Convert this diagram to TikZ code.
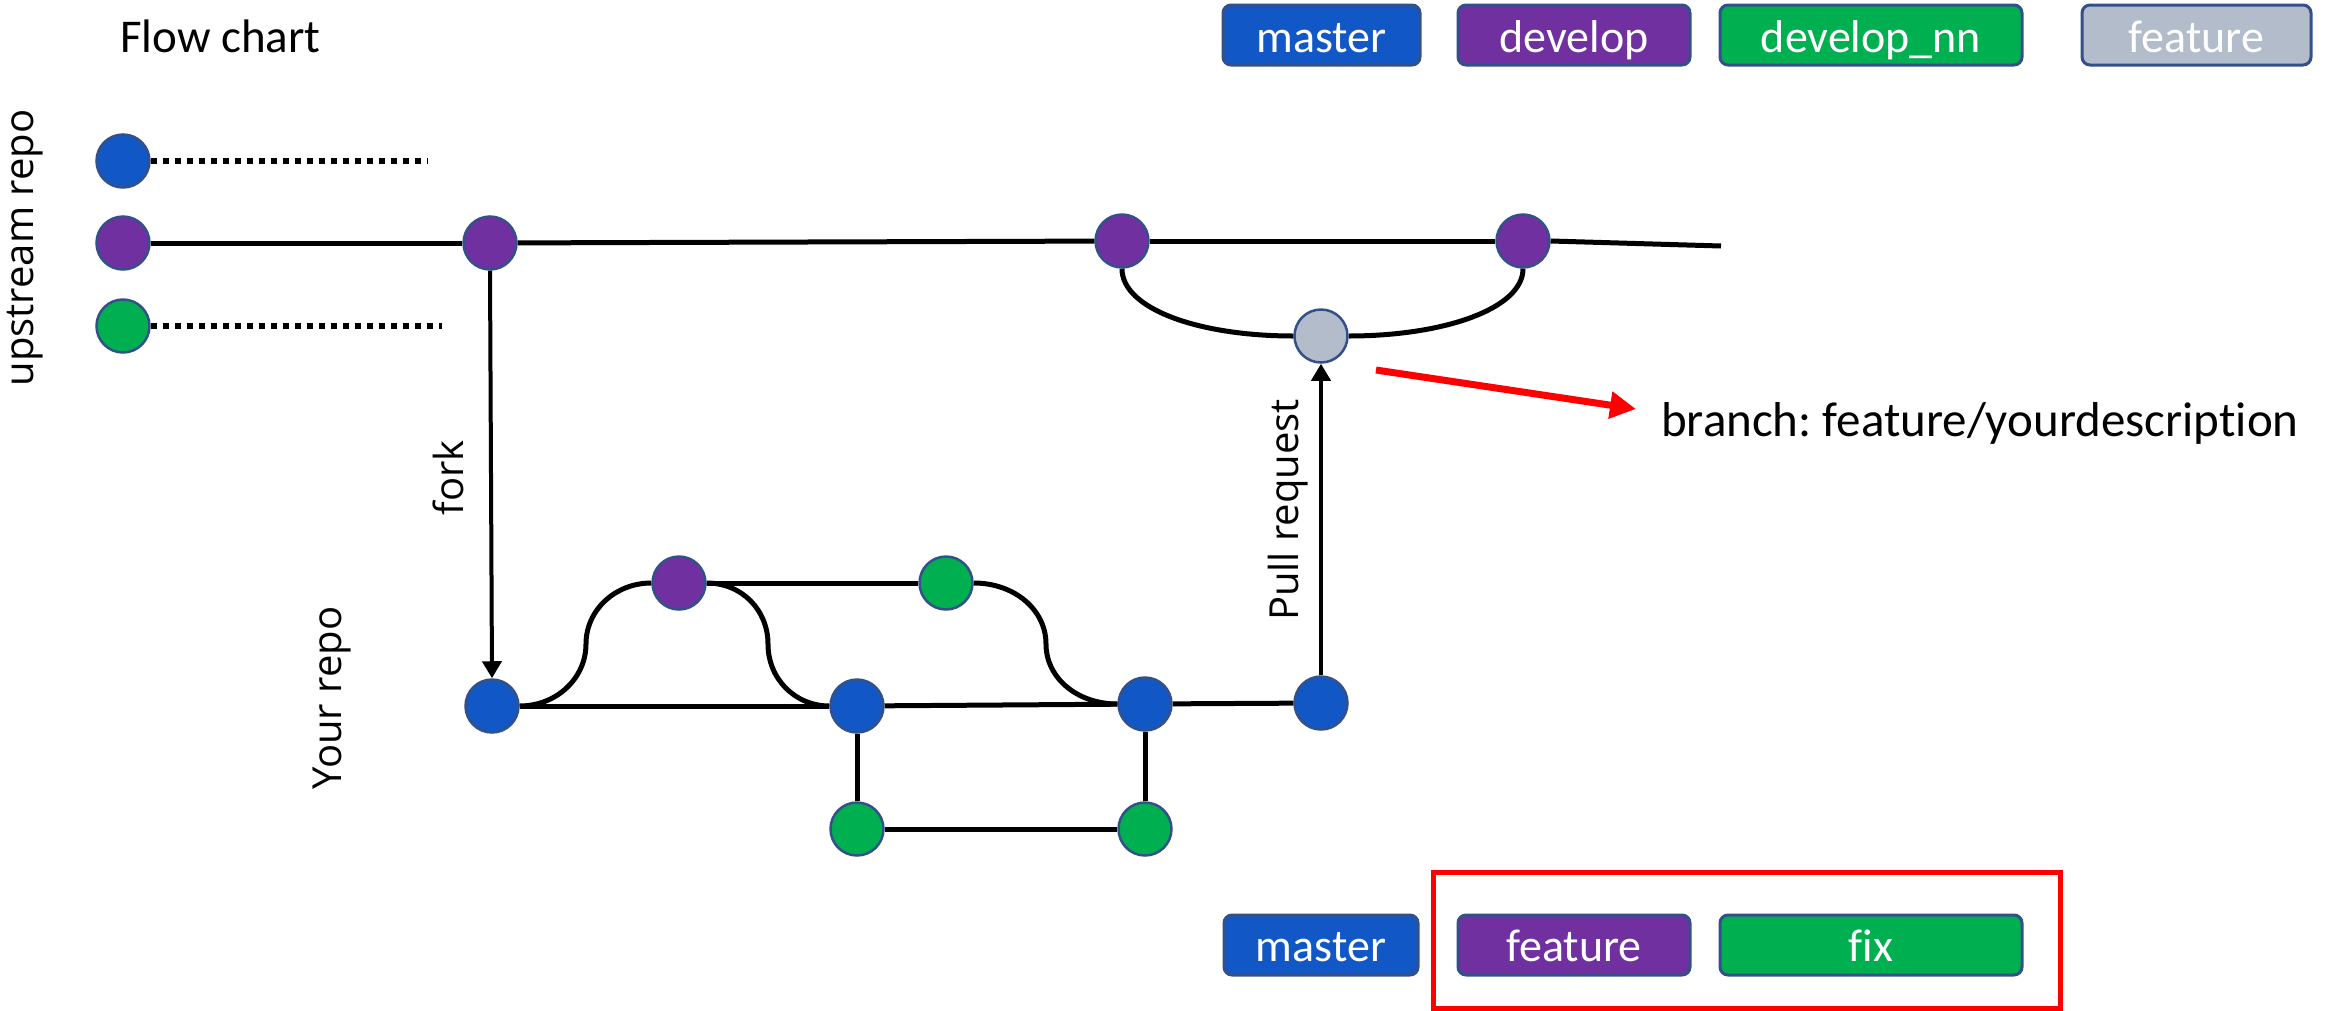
\documentclass[tikz,border=0pt]{standalone}
\usepackage{fontspec}
\setmainfont[Ligatures=NoCommon]{Carlito}
\newfontfamily\labelfont{Open Sans}
\usetikzlibrary{arrows.meta}
\frenchspacing

\definecolor{cmaster}{HTML}{1157C6}
\definecolor{cdevelop}{HTML}{7030A0}
\definecolor{cfix}{HTML}{00B050}
\definecolor{cfeature}{HTML}{B2BCCB}
\definecolor{cedge}{HTML}{34508A}
\definecolor{cred}{HTML}{FF0000}

\tikzset{
  commit/.style={circle, minimum size=53pt, inner sep=0pt, draw=cedge, line width=2.5pt},
  cmas/.style={commit, fill=cmaster},
  cdev/.style={commit, fill=cdevelop},
  cnn/.style={commit, fill=cfix},
  cfeat/.style={commit, fill=cfeature},
  branchline/.style={line width=5pt, black},
  dotline/.style={line width=6pt, black, dash pattern=on 6pt off 6pt},
  arrowline/.style={line width=4pt, black, -{Triangle[length=17pt,width=19pt]}},
  tag/.style={draw=cedge, line width=3pt, rounded corners=8pt, minimum height=60pt,
    inner sep=0pt, text=white, font=\fontsize{46}{50}\selectfont,
    text height=40pt, text depth=6pt},
  vlabel/.style={rotate=90, inner sep=0pt, font=\labelfont\fontsize{40}{44}\selectfont},
}

\begin{document}
\begin{tikzpicture}[x=1pt, y=-1pt]
\useasboundingbox (0,0) rectangle (2343,1010);

% title and legend
\node[anchor=base west, inner sep=0pt, font=\fontsize{47}{52}\selectfont] (title) at (120,52) {Flow chart};
\node[tag, fill=cmaster, minimum width=197pt] (lgmaster) at (1321.5,35) {master};
\node[tag, fill=cdevelop, minimum width=232pt] (lgdevelop) at (1574,35) {develop};
\node[tag, fill=cfix, minimum width=302pt] (lgnn) at (1871,35) {develop\_nn};
\node[tag, fill=cfeature, minimum width=229pt] (lgfeature) at (2196.5,35) {feature};

% side labels
\node[vlabel] (lupstream) at (25,248) {upstream repo};
\node[vlabel] (lfork) at (448,478) {fork};
\node[vlabel] (lyour) at (332,698) {Your repo};
\node[vlabel] (lpull) at (1288,510) {Pull request};

% upstream repository commits
\node[cmas] (um) at (123,161) {};
\node[cdev] (ud) at (123,243) {};
\node[cnn]  (un) at (123,326) {};
\node[cdev] (uf) at (490,243) {};
\node[cdev] (u2) at (1122,241) {};
\node[cdev] (u3) at (1523,241) {};
\node[cfeat] (ug) at (1321,336) {};
\coordinate (dm) at (427,161);
\coordinate (dn) at (442,326);
\coordinate (uend) at (1721,246);

\draw[dotline] (um.east) -- (dm);
\draw[dotline] (un.east) -- (dn);
\draw[branchline] (ud) -- (uf);
\draw[branchline] (uf) -- (u2);
\draw[branchline] (u2) -- (u3);
\draw[branchline] (u3.east) -- (uend);
\draw[branchline] (u2.south) .. controls +(0,40) and +(-95,0) .. (ug.west);
\draw[branchline] (ug.east) .. controls +(95,0) and +(0,40) .. (u3.south);

% own repository commits
\node[cmas] (r1) at (492,706) {};
\node[cdev] (rp) at (679,583) {};
\node[cnn]  (rg) at (946,583) {};
\node[cmas] (r2) at (857,706) {};
\node[cmas] (r3) at (1145,704) {};
\node[cmas] (r4) at (1321,703) {};
\node[cnn]  (rg2) at (857,829) {};
\node[cnn]  (rg3) at (1145,829) {};
\coordinate (m1) at (586,644);
\coordinate (m2) at (768,644);
\coordinate (m3) at (1046,644);

\draw[branchline] (r1) -- (r2);
\draw[branchline] (r2) -- (r3);
\draw[branchline] (r3) -- (r4);
\draw[branchline] (rp) -- (rg);
\draw[branchline] (r2) -- (rg2);
\draw[branchline] (rg2) -- (rg3);
\draw[branchline] (rg3) -- (r3);
\draw[branchline] (r1.east) .. controls +(37,0) and +(0,34) .. (m1)
                            .. controls +(0,-34) and +(-36,0) .. (rp.west);
\draw[branchline] (rp.east) .. controls +(35,0) and +(0,-34) .. (m2)
                            .. controls +(0,35) and +(-34,0) .. (r2.west);
\draw[branchline] (rg.east) .. controls +(41,0) and +(0,-34) .. (m3)
                            .. controls +(0,34) and +(-40,0) .. (r3.west);

% fork and pull request
\draw[arrowline] (uf.south) -- (r1.north);
\draw[arrowline] (r4.north) -- (ug.south);

% feature branch note
\coordinate (ra) at (1376,370);
\coordinate (rb) at (1636,409);
\draw[line width=7pt, cred, -{Triangle[length=26pt,width=26pt]}] (ra) -- (rb);
\node[anchor=base west, inner sep=0pt, font=\fontsize{49}{54}\selectfont] (note) at (1661,436) {branch: feature/yourdescription};

% branch names of the own repository
\node[tag, fill=cmaster, minimum width=194pt, text height=38pt] (bmaster) at (1321,945) {master};
\node[tag, fill=cdevelop, minimum width=232pt, text height=38pt] (bfeature) at (1574,945) {feature};
\node[tag, fill=cfix, minimum width=302pt, text height=38pt] (bfix) at (1871,945) {fix};
\draw[cred, line width=5pt] (1433,872) rectangle (2060,1008);
\end{tikzpicture}
\end{document}
